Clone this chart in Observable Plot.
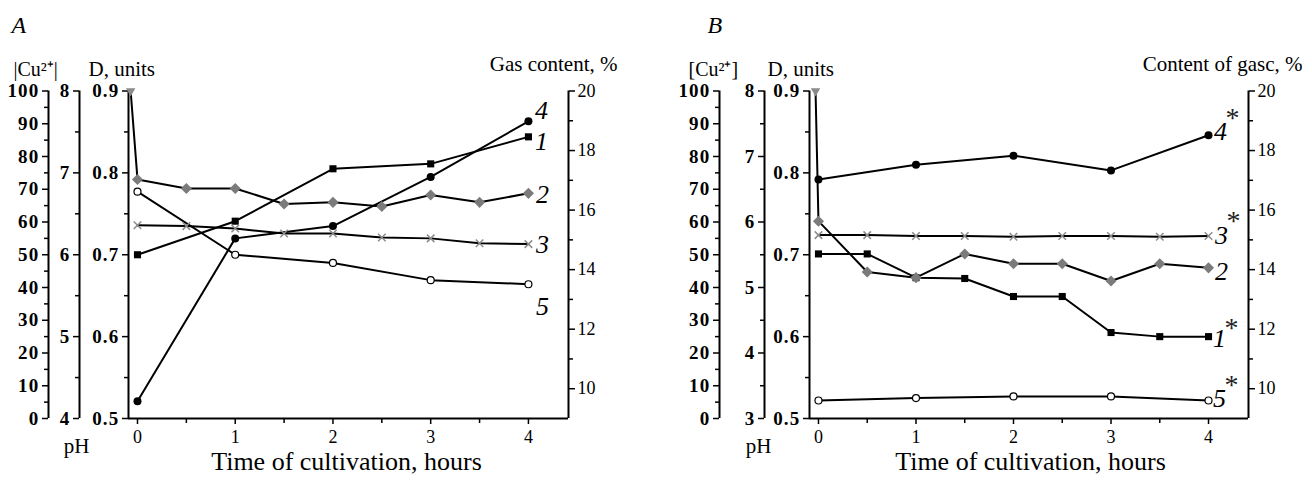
<!DOCTYPE html>
<html><head><meta charset="utf-8">
<script src="https://cdn.jsdelivr.net/npm/d3@7"></script>
<script src="https://cdn.jsdelivr.net/npm/@observablehq/plot@0.6"></script>
<style>
body{margin:0;background:#fff;}
#wrap{display:flex;width:1312px;height:484px;overflow:hidden;}
svg text{font-family:"Liberation Serif","Times New Roman",serif;}
</style></head><body><div id="wrap"></div>
<script>
// ---------- data ----------
const hoursFull = [0, 0.5, 1, 1.5, 2, 2.5, 3, 3.5, 4];
const hoursInt = [0, 1, 2, 3, 4];
const xTicks = [0, 1, 2, 3, 4];
const cuTicks = [0, 10, 20, 30, 40, 50, 60, 70, 80, 90, 100];
const phTicksA = [4, 5, 6, 7, 8];
const phTicksB = [3, 4, 5, 6, 7, 8];
const dTicks = [0.5, 0.6, 0.7, 0.8, 0.9];
const gasTicks = [10, 12, 14, 16, 18, 20];

// Panel A — values read on the shared D-units scale (0.5–0.9)
const a1 = [0.700, 0.741, 0.805, 0.811, 0.844];                               // hoursInt
const a2 = [0.792, 0.781, 0.781, 0.762, 0.764, 0.759, 0.773, 0.764, 0.775];   // hoursFull
const a3 = [0.736, 0.735, 0.732, 0.726, 0.726, 0.721, 0.720, 0.714, 0.713];   // hoursFull
const a4 = [0.521, 0.720, 0.735, 0.795, 0.863];                               // hoursInt
const a5 = [0.777, 0.700, 0.690, 0.669, 0.664];                               // hoursInt
const aStart = [-0.07, 0.9];

// Panel B
const b1 = [0.701, 0.701, 0.672, 0.671, 0.649, 0.649, 0.605, 0.600, 0.600];   // hoursFull
const b2 = [0.741, 0.679, 0.672, 0.701, 0.689, 0.689, 0.668, 0.689, 0.684];   // hoursFull
const b3 = [0.724, 0.724, 0.723, 0.723, 0.722, 0.723, 0.723, 0.722, 0.723];   // hoursFull
const b4 = [0.792, 0.810, 0.821, 0.803, 0.846];                               // hoursInt
const b5 = [0.522, 0.525, 0.527, 0.527, 0.522];                               // hoursInt
const bStart = [-0.03, 0.9];

// ---------- drawing ----------
const SERIF = "'Liberation Serif', 'Times New Roman', serif";
const X0 = -0.092, X1 = 4.41;
const MT = 90.5, MB = 66, W = 656, H = 484;

const rows = (xs, ys) => ys.map((y, i) => ({x: xs[i], y}));
const triDown = {draw(ctx, size) {
  const s = Math.sqrt(size) * 0.6824, t = s / 2, u = s * Math.sqrt(3) / 2;
  ctx.moveTo(0, s); ctx.lineTo(u, -t); ctx.lineTo(-u, -t); ctx.closePath();
}};

function panel(cfg) {
  const {ML, MR, series, start, phTicks, cuDx, phDx, notes, labels} = cfg;
  const [s1, s2, s3, s4, s5] = series;
  const ph0 = phTicks[0], ph1 = phTicks[phTicks.length - 1];
  const cuD = v => 0.5 + v * 0.004;
  const phD = v => 0.5 + (v - ph0) * 0.4 / (ph1 - ph0);
  const gasD = v => 0.5 + (v - 9) * 0.4 / 11;
  const halves = (arr) => arr.slice(0, -1).map((v, i) => (v + arr[i + 1]) / 2);

  const note = (t, px, py, o = {}) => Plot.text([t], {
    frameAnchor: "top-left", text: d => d, dx: px - ML, dy: py - MT,
    lineAnchor: "bottom", fontSize: 20, fill: "black", ...o
  });

  const axisCommon = {label: null, tickSize: 6, tickPadding: 3, strokeWidth: 1.5, fontSize: 18};
  const minorCommon = {label: null, tickSize: 4, strokeWidth: 1.5, tickFormat: () => ""};

  const s2First = s2.rows[0];
  const marks = [
    // axis lines
    Plot.ruleX([X0, X1], {strokeWidth: 2}),
    Plot.ruleY([0.5], {strokeWidth: 2}),
    Plot.ruleX([X0], {dx: cuDx, strokeWidth: 2}),
    Plot.ruleX([X0], {dx: phDx, strokeWidth: 2}),
    // [Cu2+] axis
    Plot.axisY(cuTicks.map(cuD), {...axisCommon, anchor: "left", dx: cuDx, tickFormat: d => String(Math.round((d - 0.5) / 0.004))}),
    Plot.axisY(halves(cuTicks).map(cuD), {...minorCommon, anchor: "left", dx: cuDx}),
    // pH axis
    Plot.axisY(phTicks.map(phD), {...axisCommon, anchor: "left", dx: phDx, tickFormat: d => String(Math.round(ph0 + (d - 0.5) * (ph1 - ph0) / 0.4))}),
    Plot.axisY(halves(phTicks).map(phD), {...minorCommon, anchor: "left", dx: phDx}),
    // D axis
    Plot.axisY(dTicks, {...axisCommon, anchor: "left", tickFormat: d => d.toFixed(1)}),
    Plot.axisY(halves(dTicks), {...minorCommon, anchor: "left"}),
    // gas axis
    Plot.axisY(gasTicks.map(gasD), {...axisCommon, anchor: "right", tickFormat: d => String(Math.round(9 + (d - 0.5) * 11 / 0.4))}),
    Plot.axisY(halves(gasTicks).map(gasD), {...minorCommon, anchor: "right"}),
    // x axis
    Plot.axisX(xTicks, {...axisCommon, anchor: "bottom", tickPadding: 6}),
    Plot.axisX(halves(xTicks), {...minorCommon, tickSize: 5, anchor: "bottom"}),
    // lines
    ...series.map(s => Plot.line(s.rows, {x: "x", y: "y", stroke: "black", strokeWidth: 2})),
    Plot.line([{x: start[0], y: start[1]}, s2First], {x: "x", y: "y", stroke: "black", strokeWidth: 2}),
    // markers
    Plot.dot([{x: start[0], y: start[1]}], {x: "x", y: "y", symbol: triDown, fill: "#8a8a8a", r: 4.5}),
    Plot.dot(s1.rows, {x: "x", y: "y", symbol: "square", fill: "black", r: 4}),
    Plot.dot(s2.rows, {x: "x", y: "y", symbol: "diamond2", fill: "#7b7b7b", r: 5}),
    Plot.dot(s3.rows, {x: "x", y: "y", symbol: "times", stroke: "#8c8c8c", strokeWidth: 1.5, r: 3.5}),
    Plot.dot(s4.rows, {x: "x", y: "y", symbol: "circle", fill: "black", r: 4}),
    Plot.dot(s5.rows, {x: "x", y: "y", symbol: "circle", fill: "white", stroke: "black", strokeWidth: 1.2, r: 3.5}),
    // series labels
    ...labels.flatMap(l => {
      const last = series[l.i].rows[series[l.i].rows.length - 1];
      const m = [Plot.text([last], {x: "x", y: "y", text: () => l.t, dx: l.dx, dy: l.dy, fontSize: 26, fontStyle: "italic", textAnchor: "middle", fill: "black"})];
      if (l.star != null) m.push(Plot.text([last], {x: "x", y: "y", text: () => "*", dx: l.dx + 12, dy: l.star + 5, fontSize: 28, textAnchor: "middle", fill: "#222"}));
      return m;
    }),
    // titles
    ...notes.map(n => note(n.t, n.x, n.y, n.o || {}))
  ];

  const svg = Plot.plot({
    width: W, height: H,
    marginLeft: ML, marginRight: MR, marginTop: MT, marginBottom: MB,
    x: {domain: [X0, X1]},
    y: {domain: [0.5, 0.9]},
    style: {fontFamily: SERIF, fontSize: "18px", color: "black", background: "white", overflow: "visible"},
    marks
  });
  // left-side tick labels are heavier and wider in the original
  d3.select(svg).selectAll('g[aria-label="y-axis tick label"]')
    .filter(function() { return this.getAttribute("text-anchor") === "end"; })
    .attr("font-weight", "bold").attr("font-size", 19).attr("letter-spacing", 1.2);
  return svg;
}

const A = panel({
  ML: 128, MR: 88, cuDx: -80, phDx: -49, phTicks: phTicksA, start: aStart,
  series: [
    {rows: rows(hoursInt, a1)}, {rows: rows(hoursFull, a2)}, {rows: rows(hoursFull, a3)},
    {rows: rows(hoursInt, a4)}, {rows: rows(hoursInt, a5)}
  ],
  labels: [
    {i: 3, t: "4", dx: 13, dy: -11},
    {i: 0, t: "1", dx: 13, dy: 5},
    {i: 1, t: "2", dx: 14, dy: 1},
    {i: 2, t: "3", dx: 14, dy: 1},
    {i: 4, t: "5", dx: 14, dy: 22}
  ],
  notes: [
    {t: "A", x: 11, y: 32, o: {fontStyle: "italic", fontSize: 24, textAnchor: "start"}},
    {t: "|Cu²⁺|", x: 13, y: 75, o: {textAnchor: "start"}},
    {t: "D, units", x: 88, y: 75, o: {textAnchor: "start", fontSize: 21}},
    {t: "Gas content, %", x: 617, y: 70, o: {textAnchor: "end", fontSize: 21}},
    {t: "pH", x: 76, y: 452, o: {textAnchor: "middle", fontSize: 21}},
    {t: "Time of cultivation, hours", x: 346, y: 469, o: {textAnchor: "middle", fontSize: 26}}
  ]
});

const B = panel({
  ML: 153, MR: 64, cuDx: -90, phDx: -45, phTicks: phTicksB, start: bStart,
  series: [
    {rows: rows(hoursFull, b1)}, {rows: rows(hoursFull, b2)}, {rows: rows(hoursFull, b3)},
    {rows: rows(hoursInt, b4)}, {rows: rows(hoursInt, b5)}
  ],
  labels: [
    {i: 3, t: "4", dx: 12, dy: -4, star: -22},
    {i: 2, t: "3", dx: 13, dy: 0, star: -20},
    {i: 1, t: "2", dx: 13, dy: 4},
    {i: 0, t: "1", dx: 11, dy: 2, star: -14},
    {i: 4, t: "5", dx: 11, dy: -2, star: -20}
  ],
  notes: [
    {t: "B", x: 51, y: 32, o: {fontStyle: "italic", fontSize: 24, textAnchor: "start"}},
    {t: "[Cu²⁺]", x: 32, y: 75, o: {textAnchor: "start"}},
    {t: "D, units", x: 111, y: 75, o: {textAnchor: "start", fontSize: 21}},
    {t: "Content of gasc, %", x: 646, y: 70, o: {textAnchor: "end", fontSize: 21}},
    {t: "pH", x: 102, y: 452, o: {textAnchor: "middle", fontSize: 21}},
    {t: "Time of cultivation, hours", x: 374, y: 469, o: {textAnchor: "middle", fontSize: 26}}
  ]
});

document.getElementById("wrap").append(A, B);
</script>
</body></html>
